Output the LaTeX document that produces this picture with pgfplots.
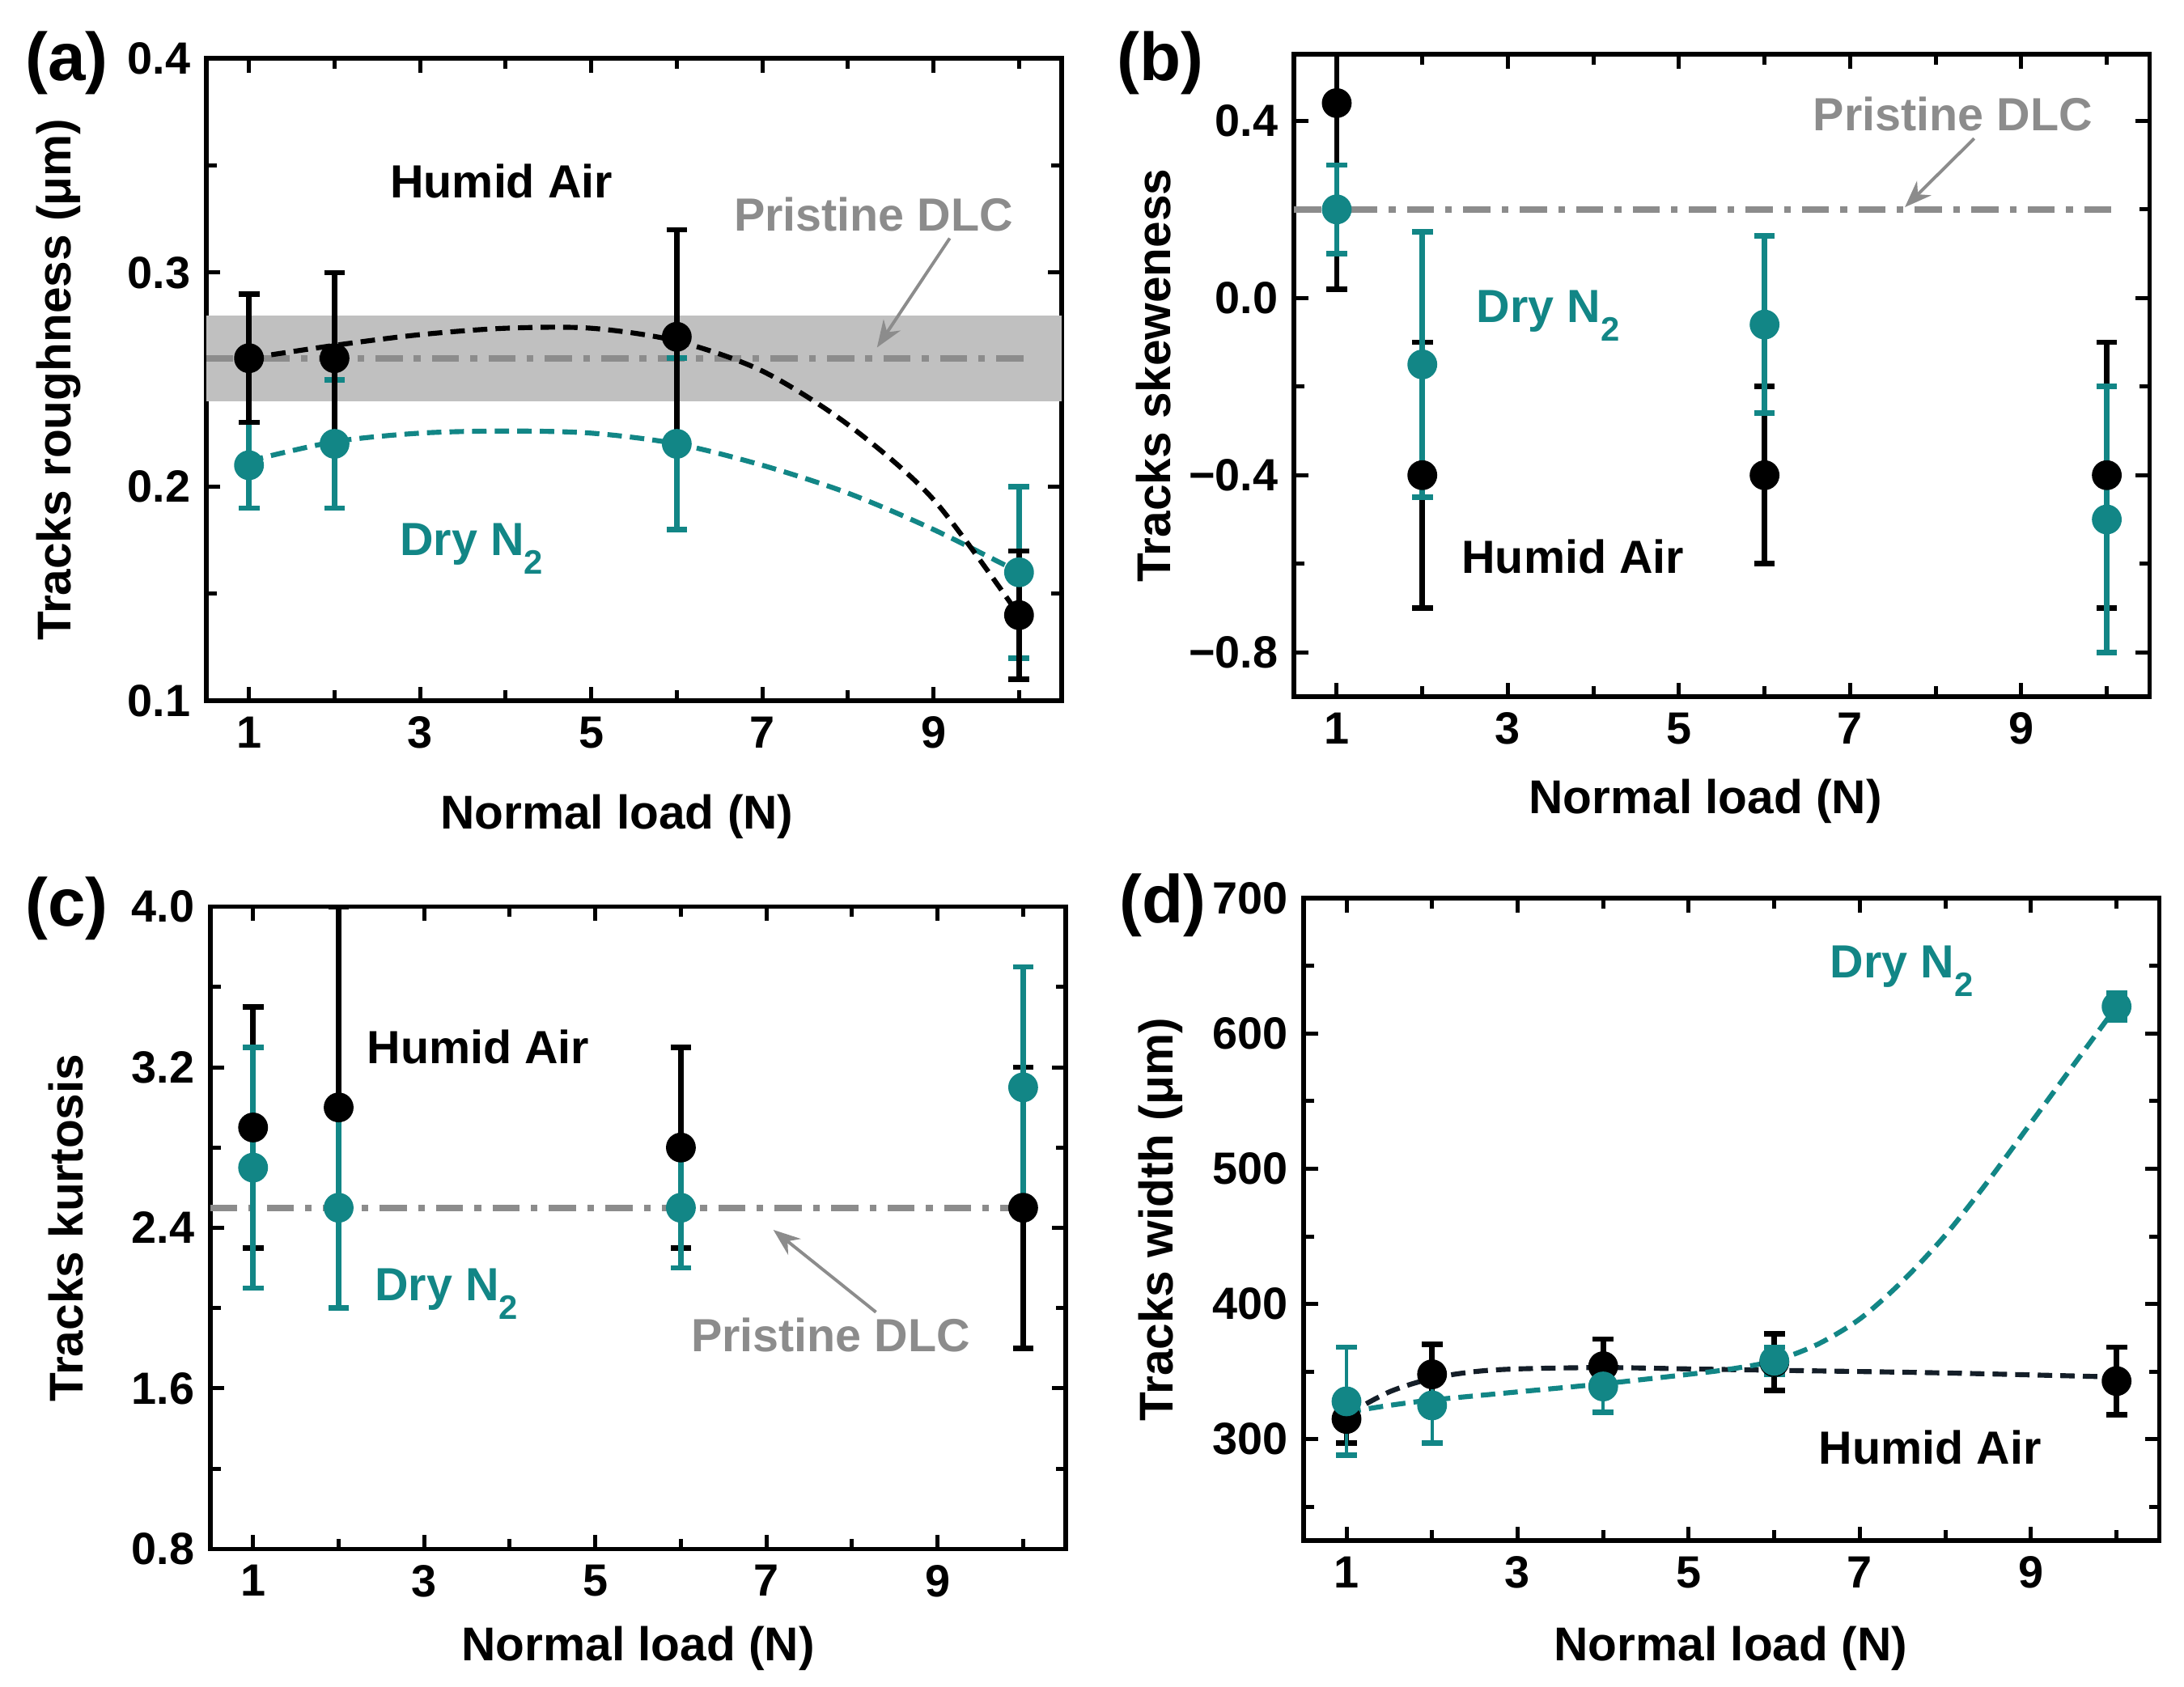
\documentclass[border=0pt]{standalone}
\usepackage{fontspec}
\setmainfont{Liberation Sans}
\usepackage{pgfplots}
\pgfplotsset{compat=1.18}
\usetikzlibrary{arrows.meta}
\definecolor{tealc}{RGB}{18,134,134}
\definecolor{pgray}{RGB}{140,140,140}
\definecolor{bandgray}{RGB}{192,192,192}
\definecolor{fitblk}{RGB}{20,30,40}

\pgfplotsset{
  panel/.style={
    width=6.66cm, height=5.0cm, scale only axis,
    anchor=north west,
    xmin=0.5, xmax=10.5,
    xtick={1,3,5,7,9}, minor xtick={2,4,6,8,10},
    xticklabels={1,3,5,7,9},
    tick align=inside,
    major tick length=0.11cm, minor tick length=0.08cm,
    every tick/.style={black, line width=0.9pt},
    axis line style={line width=1pt},
    tick label style={font=\fontsize{10}{12}\selectfont\bfseries},
    label style={font=\fontsize{10.5}{12}\selectfont\bfseries},
    /pgf/number format/assume math mode=true,
    xlabel={Normal load (N)},
  },
  blk/.style={black, only marks, mark=*, mark size=3.1pt,
    error bars/y dir=both, error bars/y explicit,
    error bars/error bar style={line width=1.2pt, black},
    error bars/error mark options={rotate=90, mark size=2.3pt, line width=1.2pt, black}},
  tlc/.style={tealc, only marks, mark=*, mark size=3.1pt,
    error bars/y dir=both, error bars/y explicit,
    error bars/error bar style={line width=1.2pt, tealc},
    error bars/error mark options={rotate=90, mark size=2.3pt, line width=1.2pt, tealc}},
  pline/.style={pgray, line width=1.5pt, dash pattern=on 6pt off 2.5pt on 1.5pt off 2.5pt},
  fit/.style={line width=1.1pt, dash pattern=on 3.2pt off 1.8pt, smooth},
}
\newcommand{\lbl}{\fontsize{10.3}{12}\selectfont\bfseries}
\newcommand{\sub}[1]{\raisebox{-0.75ex}{\fontsize{7.5}{9}\selectfont #1}}

\begin{document}
\begin{tikzpicture}
\useasboundingbox (0,0) rectangle (17,-13.132);

% ---------------- (a) ----------------
\begin{axis}[panel, at={(1.605cm,-0.455cm)},
  ymin=0.1, ymax=0.4,
  ytick={0.1,0.2,0.3,0.4}, yticklabels={0.1,0.2,0.3,0.4},
  minor ytick={0.15,0.25,0.35},
  ylabel={Tracks roughness (μm)},
  ylabel style={at={(axis description cs:-0.172,0.5)}, anchor=center},
  xlabel style={at={(axis description cs:0.48,-0.18)}, anchor=center},
]
\addplot[fill=bandgray, draw=none, forget plot] coordinates {(0.5,0.24) (10.5,0.24) (10.5,0.28) (0.5,0.28)};
\addplot[pline] coordinates {(0.5,0.26) (10.05,0.26)};
\addplot[fit, tealc] coordinates {(1,0.212) (2,0.221) (3,0.225) (4,0.226) (5,0.225) (6,0.220) (7,0.210) (8,0.197) (9,0.180) (10,0.160)};
\addplot[fit, black] coordinates {(1,0.260) (2,0.266) (3,0.271) (4,0.274) (5,0.274) (6,0.268) (7,0.254) (8,0.229) (9,0.194) (10,0.140)};
\addplot[tlc] coordinates {(1,0.21) +- (0,0.02) (2,0.22) +- (0,0.03) (6,0.22) +- (0,0.04) (10,0.16) +- (0,0.04)};
\addplot[blk] coordinates {(1,0.26) +- (0,0.03) (2,0.26) +- (0,0.04) (6,0.27) +- (0,0.05) (10,0.14) +- (0,0.03)};
\draw[pgray, line width=0.7pt, -{Stealth[length=6pt,width=4.5pt]}] (axis cs:9.19,0.316) -- (axis cs:8.34,0.265);
\node[font=\lbl] at (axis cs:3.95,0.3425) {Humid Air};
\node[font=\lbl, pgray] at (axis cs:8.3,0.327) {Pristine DLC};
\node[font=\lbl, tealc] at (axis cs:3.6,0.171) {Dry N\sub{2}};
\end{axis}

% ---------------- (b) ----------------
\begin{axis}[panel, at={(10.072cm,-0.423cm)},
  ymin=-0.9, ymax=0.55,
  ytick={-0.8,-0.4,0,0.4}, yticklabels={−0.8,−0.4,0.0,0.4},
  minor ytick={-0.6,-0.2,0.2},
  ylabel={Tracks skeweness},
  ylabel style={at={(axis description cs:-0.164,0.5)}, anchor=center},
  xlabel style={at={(axis description cs:0.481,-0.163)}, anchor=center},
]
\addplot[pline] coordinates {(0.5,0.2) (10.1,0.2)};
\addplot[blk] coordinates {(1,0.44) +- (0,0.42) (2,-0.4) +- (0,0.3) (6,-0.4) +- (0,0.2) (10,-0.4) +- (0,0.3)};
\addplot[tlc] coordinates {(1,0.2) +- (0,0.1) (2,-0.15) +- (0,0.3) (6,-0.06) +- (0,0.2) (10,-0.5) +- (0,0.3)};
\draw[pgray, line width=0.7pt, -{Stealth[length=6pt,width=4.5pt]}] (axis cs:8.45,0.36) -- (axis cs:7.64,0.205);
\node[font=\lbl, pgray] at (axis cs:8.2,0.416) {Pristine DLC};
\node[font=\lbl, tealc] at (axis cs:3.47,-0.04) {Dry N\sub{2}};
\node[font=\lbl] at (axis cs:3.76,-0.584) {Humid Air};
\end{axis}

% ---------------- (c) ----------------
\begin{axis}[panel, at={(1.637cm,-7.058cm)},
  ymin=0.8, ymax=4.0,
  ytick={0.8,1.6,2.4,3.2,4.0}, yticklabels={0.8,1.6,2.4,3.2,4.0},
  minor ytick={1.2,2.0,2.8,3.6},
  ylabel={Tracks kurtosis},
  ylabel style={at={(axis description cs:-0.169,0.5)}, anchor=center},
  xlabel style={at={(axis description cs:0.5,-0.155)}, anchor=center},
]
\addplot[pline] coordinates {(0.5,2.5) (10.0,2.5)};
\addplot[blk] coordinates {(1,2.9) +- (0,0.6) (2,3.0) +- (0,1.0) (6,2.8) +- (0,0.5) (10,2.5) +- (0,0.7)};
\addplot[tlc] coordinates {(1,2.7) +- (0,0.6) (2,2.5) +- (0,0.5) (6,2.5) +- (0,0.3) (10,3.1) +- (0,0.6)};
\draw[pgray, line width=0.7pt, -{Stealth[length=6pt,width=4.5pt]}] (axis cs:8.28,1.98) -- (axis cs:7.08,2.39);
\node[font=\lbl, pgray] at (axis cs:7.75,1.866) {Pristine DLC};
\node[font=\lbl] at (axis cs:3.63,3.30) {Humid Air};
\node[font=\lbl, tealc] at (axis cs:3.26,2.07) {Dry N\sub{2}};
\end{axis}

% ---------------- (d) ----------------
\begin{axis}[panel, at={(10.148cm,-6.993cm)},
  ymin=225, ymax=700,
  ytick={300,400,500,600,700}, yticklabels={300,400,500,600,700},
  minor ytick={250,350,450,550,650},
  ylabel={Tracks width (μm)},
  ylabel style={at={(axis description cs:-0.167,0.5)}, anchor=center},
  xlabel style={at={(axis description cs:0.499,-0.168)}, anchor=center},
]
\addplot[fit, fitblk] coordinates {(1,318) (1.5,335) (2,345) (2.5,350) (3,352) (4,353) (5,352) (6,351) (8,349) (10,346)};
\addplot[fit, tealc] coordinates {(1,320) (1.5,325) (2,329) (3,335) (4,341) (5,348) (5.5,352) (6,358) (6.5,370) (7,389) (7.5,417) (8,451) (8.5,491) (9,534) (9.5,577) (10,620)};
\addplot[blk] coordinates {(1,315) +- (0,18) (2,348) +- (0,22) (4,354) +- (0,20) (6,357) +- (0,21) (10,343) +- (0,25)};
\addplot[tlc, error bars/error bar style={line width=0.7pt, tealc}] coordinates {(1,328) +- (0,40) (2,325) +- (0,28) (4,339) +- (0,19) (6,358) +- (0,10) (10,620) +- (0,10)};
\node[font=\lbl, tealc] at (axis cs:7.49,646) {Dry N\sub{2}};
\node[font=\lbl] at (axis cs:7.82,294) {Humid Air};
\end{axis}

% panel letters
\node[font=\fontsize{15}{18}\selectfont\bfseries] at (0.52,-0.49) {(a)};
\node[font=\fontsize{15}{18}\selectfont\bfseries] at (9.03,-0.49) {(b)};
\node[font=\fontsize{15}{18}\selectfont\bfseries] at (0.52,-7.07) {(c)};
\node[font=\fontsize{15}{18}\selectfont\bfseries] at (9.05,-7.05) {(d)};
\end{tikzpicture}
\end{document}
